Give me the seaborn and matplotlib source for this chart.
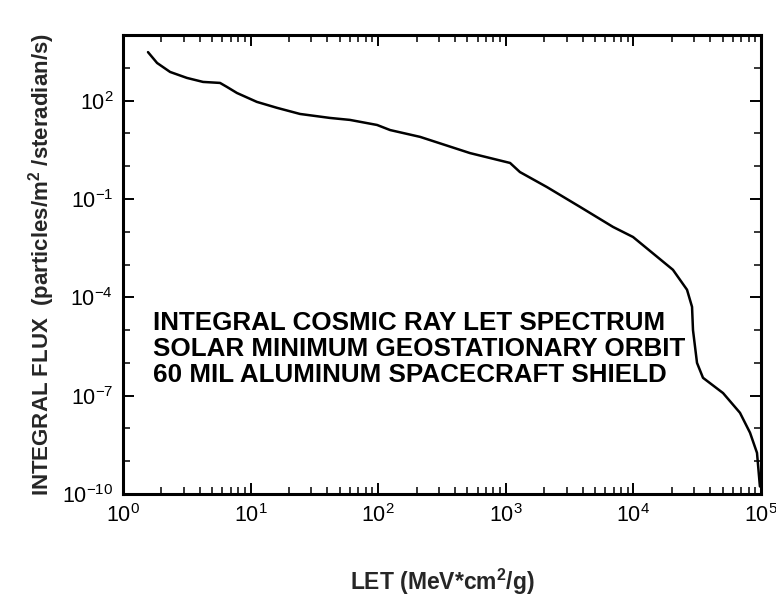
import numpy as np
import pandas as pd
import matplotlib
matplotlib.use("Agg")
import matplotlib.pyplot as plt
import matplotlib.ticker as mticker
import seaborn as sns

# LET values (MeV*cm^2/g)
let = [1.57, 1.85, 2.34, 3.17, 4.24, 5.76, 6.53, 7.82, 11.2, 16.1, 24.4, 41.9,
       60, 98, 124, 213, 524, 1080, 1290, 2100, 3820, 6920, 9930, 20400, 26300,
       28800, 29300, 31500, 35100, 50400, 68400, 82000, 93000, 98000]
# integral flux (particles/m^2/steradian/s)
flux = [3000, 1400, 745, 490, 370, 345, 260, 170, 91, 60, 39, 29.5,
        25.7, 18, 12.6, 7.8, 2.5, 1.25, 0.66, 0.23, 0.057, 0.014, 0.0069,
        6.9e-4, 1.7e-4, 5.1e-5, 1.0e-5, 1.0e-6, 3.5e-7, 1.2e-7, 3.0e-8,
        7.4e-9, 1.8e-9, 1.7e-10]

xticks = [1e0, 1e1, 1e2, 1e3, 1e4, 1e5]
yticks = [1e-10, 1e-7, 1e-4, 1e-1, 1e2]

note_lines = ["INTEGRAL COSMIC RAY LET SPECTRUM",
              "SOLAR MINIMUM GEOSTATIONARY ORBIT",
              "60 MIL ALUMINUM SPACECRAFT SHIELD"]

df = pd.DataFrame({"LET": let, "FLUX": flux})

sns.set_style("ticks")
plt.rcParams['font.family'] = ['Liberation Sans', 'DejaVu Sans']
plt.rcParams['mathtext.fontset'] = 'custom'
plt.rcParams['mathtext.rm'] = 'Liberation Sans'
plt.rcParams['mathtext.it'] = 'Liberation Sans:italic'
plt.rcParams['mathtext.bf'] = 'Liberation Sans:bold'
plt.rcParams['axes.unicode_minus'] = False

fig = plt.figure(figsize=(7.76, 6.01), dpi=100)
ax = fig.add_axes([0.1585, 0.178, 0.8222, 0.7638])
ax.set_xscale("log")
ax.set_yscale("log")

sns.lineplot(data=df, x="LET", y="FLUX", ax=ax, color="black", lw=1.8)

ax.set_xlim(1, 1e5)
ax.set_ylim(1e-10, 1e4)

ax.xaxis.set_major_locator(mticker.FixedLocator(xticks))
ax.xaxis.set_minor_locator(mticker.LogLocator(base=10, subs=np.arange(2, 10), numticks=20))
ax.xaxis.set_minor_formatter(mticker.NullFormatter())
ax.yaxis.set_major_locator(mticker.FixedLocator(yticks))
ax.yaxis.set_minor_locator(mticker.LogLocator(base=10, subs=[1.0], numticks=30))
ax.yaxis.set_minor_formatter(mticker.NullFormatter())
ax.xaxis.set_major_formatter(mticker.LogFormatterSciNotation())
ax.yaxis.set_major_formatter(mticker.LogFormatterSciNotation())

ax.tick_params(which="both", direction="in", top=True, right=True, colors="black")
ax.tick_params(which="major", length=8, width=1.4, labelsize=15.5, pad=7)
ax.tick_params(which="minor", length=5, width=1.1)
for side in ["left", "right", "top", "bottom"]:
    ax.spines[side].set_linewidth(2.2)
    ax.spines[side].set_color("black")

ax.set_xlabel("LET (MeV*cm$^\\mathbf{2}$/g)", fontsize=16.5, fontweight="bold", labelpad=29)
ax.set_ylabel("INTEGRAL FLUX  (particles/m$^\\mathbf{2}$ /steradian/s)",
              fontsize=16, fontweight="bold", labelpad=4)

ax.text(0.047, 0.316, "\n".join(note_lines), transform=ax.transAxes,
        fontsize=18.7, fontweight="bold", va="center", ha="left",
        linespacing=1.12, color="black")

fig.savefig("out.png", dpi=100)
